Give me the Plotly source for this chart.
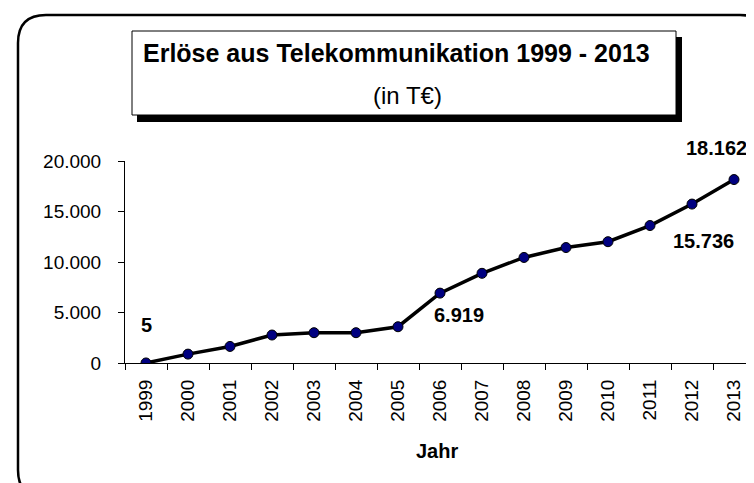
import plotly.graph_objects as go

# Erlöse aus Telekommunikation (T€)
years = ['1999', '2000', '2001', '2002', '2003', '2004', '2005', '2006',
         '2007', '2008', '2009', '2010', '2011', '2012', '2013']
revenue = [5, 880, 1640, 2770, 3000, 3000, 3590, 6919,
           8880, 10450, 11430, 12010, 13610, 15736, 18162]
y_ticks = [0, 5000, 10000, 15000, 20000]

# which points get a value label, and where it sits (px shift)
label_idx = [0, 7, 13, 14]
label_shift = [(0, 38), (19, -22), (11, -37), (-18, 32)]

FONT = 'Arial, Liberation Sans, sans-serif'

W, H = 754, 483
ML, MR, MT, MB = 117, 7, 153, 128


def px2x(px):
    return (px - ML) / (W - ML - MR)


def py2y(py):
    return (H - MB - py) / (H - MT - MB)


trace = go.Scatter(
    x=years,
    y=revenue,
    mode='lines+markers',
    line=dict(color='black', width=3.5),
    marker=dict(color='#000080', size=10, line=dict(color='black', width=1)),
    hoverinfo='x+y',
)

fig = go.Figure(data=[trace])

# value labels (x given as category index)
for i, (dx, dy) in zip(label_idx, label_shift):
    fig.add_annotation(
        x=i, y=revenue[i],
        text='{:,}'.format(revenue[i]).replace(',', '.'),
        showarrow=False, xshift=dx, yshift=dy,
        font=dict(family=FONT, size=20, color='black', weight='bold'))

# outer rounded frame
x0, x1, y0, y1, r = 10, 760, 7, 490, 28
frame = ('M {a},{t} L {b},{t} Q {R},{t} {R},{t2} L {R},{b2} Q {R},{B} {b},{B} '
         'L {a},{B} Q {L},{B} {L},{b2} L {L},{t2} Q {L},{t} {a},{t} Z').format(
    L=px2x(x0), R=px2x(x1), a=px2x(x0 + r), b=px2x(x1 - r),
    t=py2y(y0), B=py2y(y1), t2=py2y(y0 + r), b2=py2y(y1 - r))
fig.add_shape(type='path', path=frame, xref='paper', yref='paper',
              line=dict(color='black', width=2.5))

# title box with shadow
fig.add_shape(type='rect', xref='paper', yref='paper',
              x0=px2x(129), x1=px2x(674), y0=py2y(29), y1=py2y(114),
              fillcolor='black', line=dict(width=0))
fig.add_shape(type='rect', xref='paper', yref='paper',
              x0=px2x(124), x1=px2x(668), y0=py2y(23), y1=py2y(107),
              fillcolor='white', line=dict(color='black', width=1))

fig.add_annotation(x=px2x(388), y=py2y(45), xref='paper', yref='paper',
                   text='Erlöse aus Telekommunikation 1999 - 2013',
                   showarrow=False, xanchor='center', yanchor='middle',
                   font=dict(family=FONT, size=25, color='black', weight='bold'))
fig.add_annotation(x=px2x(399), y=py2y(88), xref='paper', yref='paper',
                   text='(in T€)', showarrow=False,
                   xanchor='center', yanchor='middle',
                   font=dict(family=FONT, size=24, color='black'))

fig.add_annotation(x=px2x(429), y=py2y(443), xref='paper', yref='paper',
                   text='Jahr', showarrow=False,
                   xanchor='center', yanchor='middle',
                   font=dict(family=FONT, size=20, color='black', weight='bold'))

fig.update_layout(
    width=W, height=H,
    margin=dict(l=ML, r=MR, t=MT, b=MB),
    paper_bgcolor='white', plot_bgcolor='white',
    showlegend=False,
    separators=',.',
    font=dict(family=FONT, color='black'),
    xaxis=dict(type='category', range=[-0.5, len(years) - 0.5],
               autorange=False, showgrid=False, zeroline=False,
               showline=True, linecolor='black', linewidth=1,
               ticks='outside', ticklen=6, tickcolor='black',
               tickson='boundaries', tickangle=-90,
               tickfont=dict(family=FONT, size=19, color='black'),
               ticklabelstandoff=8),
    yaxis=dict(range=[0, 20000], autorange=False, tickvals=y_ticks,
               tickformat=',d', showgrid=False, zeroline=False,
               showline=True, linecolor='black', linewidth=1,
               ticks='outside', ticklen=6, tickcolor='black',
               tickfont=dict(family=FONT, size=19, color='black'),
               ticklabelstandoff=13),
)

fig.write_html('out.html')
